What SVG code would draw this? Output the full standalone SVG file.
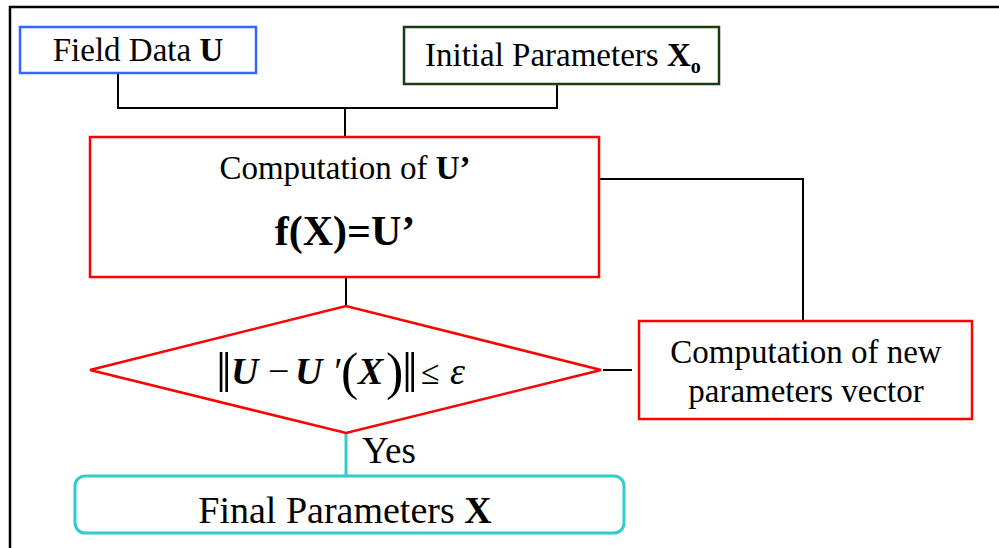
<svg xmlns="http://www.w3.org/2000/svg" width="999" height="548" viewBox="0 0 999 548">
<style>
  text { font-family: "Liberation Serif", "Times New Roman", serif; fill: #000; }
  .lbl { font-size: 33px; }
  .conn { fill: none; stroke: #000; stroke-width: 2; }
  .red { fill: #fff; stroke: #ff0000; stroke-width: 2.5; }
</style>
<rect width="999" height="548" fill="#fff"/>
<path d="M10,548 V7 H999" fill="none" stroke="#000" stroke-width="2.5"/>
<g id="connectors">
  <path class="conn" d="M118,73 V108 H557 V84"/>
  <path class="conn" d="M345,108 V137"/>
  <path class="conn" d="M599,179 H803 V321"/>
  <path class="conn" d="M346,277 V306"/>
  <path class="conn" d="M603,370 H632"/>
  <path d="M346,433 V475" fill="none" stroke="#33cccc" stroke-width="3"/>
  <text x="362" y="463" style="font-size:37px">Yes</text>
</g>
<g id="field-data">
  <rect x="20" y="27" width="236" height="46" fill="#fff" stroke="#3366ff" stroke-width="2.5"/>
  <text class="lbl" x="138" y="61" text-anchor="middle">Field Data <tspan font-weight="bold">U</tspan></text>
</g>
<g id="initial-params">
  <rect x="404" y="27" width="315" height="57" fill="#fff" stroke="#1a3d0f" stroke-width="2.5"/>
  <text class="lbl" x="425" y="66">Initial Parameters <tspan font-weight="bold">X</tspan><tspan font-weight="bold" font-size="20" dy="7">o</tspan></text>
</g>
<g id="computation">
  <rect class="red" x="90" y="137" width="509" height="140"/>
  <text class="lbl" x="345" y="179" text-anchor="middle">Computation of <tspan font-weight="bold">U’</tspan></text>
  <text x="345" y="245" text-anchor="middle" style="font-size:42px;font-weight:bold">f(X)=U’</text>
</g>
<g id="decision">
  <polygon class="red" points="90,370 346,306 601,370 346,433"/>
  <text style="font-size:38px">
    <tspan x="216" y="392" font-size="56">‖</tspan><tspan x="231" y="384" font-weight="bold" font-style="italic">U</tspan><tspan x="268" y="384">−</tspan><tspan x="295" y="384" font-weight="bold" font-style="italic">U</tspan><tspan x="332" y="384" font-style="italic">′</tspan><tspan x="341" y="389" font-size="52">(</tspan><tspan x="358" y="384" font-weight="bold" font-style="italic">X</tspan><tspan x="386" y="389" font-size="52">)</tspan><tspan x="402" y="392" font-size="56">‖</tspan><tspan x="421" y="384" font-size="34">≤</tspan><tspan x="450" y="384" font-style="italic">ε</tspan>
  </text>
</g>
<g id="new-params">
  <rect class="red" x="639" y="321" width="333" height="98"/>
  <text class="lbl" x="806" y="363" text-anchor="middle">Computation of new</text>
  <text class="lbl" x="806" y="402" text-anchor="middle">parameters vector</text>
</g>
<g id="final-params">
  <rect x="75" y="476" width="549" height="57" rx="10" fill="#fff" stroke="#33cccc" stroke-width="3"/>
  <text x="345" y="523" text-anchor="middle" style="font-size:38px">Final Parameters <tspan font-weight="bold">X</tspan></text>
</g>
</svg>
